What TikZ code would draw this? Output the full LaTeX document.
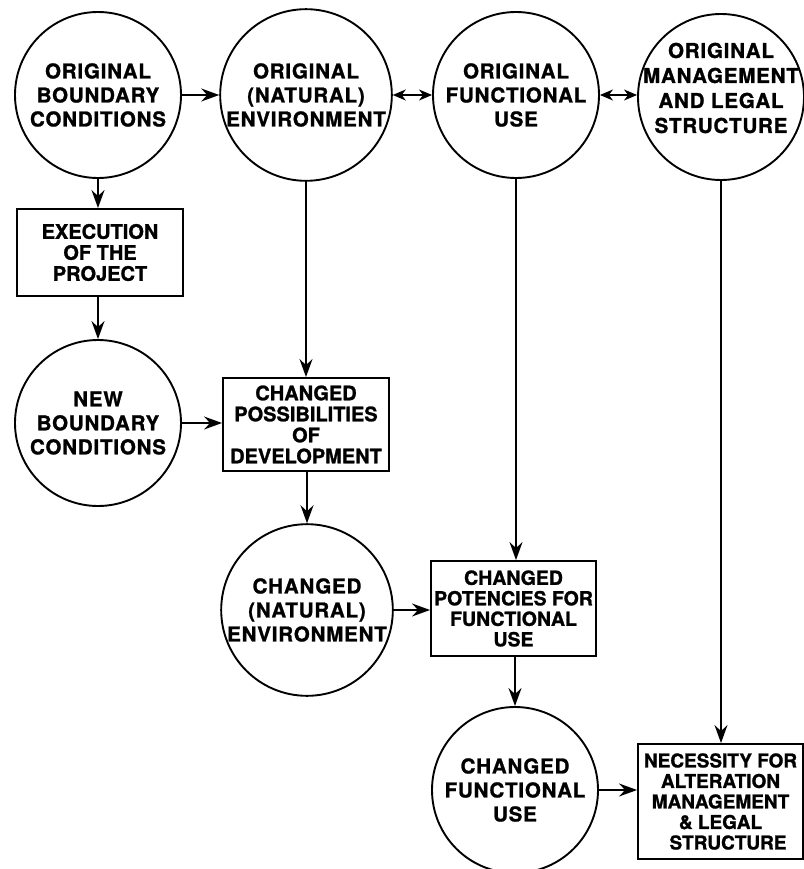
\documentclass[tikz,border=0pt]{standalone}
\usepackage{fontspec}
\setmainfont{TeX Gyre Heros}[BoldFeatures={FakeBold=1.2}]
\newfontfamily\widefont{TeX Gyre Heros}[LetterSpace=4,BoldFeatures={FakeBold=1.2}]
\usetikzlibrary{arrows.meta}
\begin{document}
\begin{tikzpicture}[x=1pt,y=-1pt,
  circ/.style={circle, draw, line width=1.9pt, minimum size=166pt, inner sep=0pt, align=center,
    font=\widefont\bfseries\fontsize{20.5}{24}\selectfont},
  txt/.style={inner sep=0pt, align=center, font=\widefont\bfseries\fontsize{20.5}{25}\selectfont},
  boxn/.style={rectangle, draw, line width=1.9pt, inner sep=0pt, align=center,
    font=\bfseries\fontsize{20}{21}\selectfont},
  arr/.style={line width=1.4pt, -{Stealth[length=18pt,width=13pt,inset=6pt]}},
  darr/.style={line width=1.4pt, {Stealth[length=13pt,width=11pt,inset=4pt]}-{Stealth[length=13pt,width=11pt,inset=4pt]}}]
\useasboundingbox (0,0) rectangle (803,869);
% circles
\node[circ] (obc) at (98,95) {ORIGINAL\\BOUNDARY\\CONDITIONS};
\node[circ] (onat) at (306,95) {ORIGINAL\\(NATURAL)\\ENVIRONMENT};
\node[circ] (ofu) at (516,95) {ORIGINAL\\FUNCTIONAL\\USE};
\node[circ] (omg) at (721,97) {};
\node[txt] (omgt) at (721,88) {ORIGINAL\\MANAGEMENT\\AND LEGAL\\STRUCTURE};
\node[circ] (nbc) at (98,423) {NEW\\BOUNDARY\\CONDITIONS};
\node[circ] (cnat) at (307,610) {CHANGED\\(NATURAL)\\ENVIRONMENT};
\node[circ] (cfu) at (515,790) {CHANGED\\FUNCTIONAL\\USE};
% boxes
\node[boxn, minimum width=166pt, minimum height=87pt] (exec) at (100,252.5) {EXECUTION\\OF THE\\PROJECT};
\node[boxn, minimum width=166pt, minimum height=93pt] (posdev) at (306,424.5) {CHANGED\\POSSIBILITIES\\OF\\DEVELOPMENT};
\node[boxn, minimum width=165pt, minimum height=95pt, font=\bfseries\fontsize{19.5}{20.5}\selectfont] (pot) at (513.5,608.5) {CHANGED\\POTENCIES FOR\\FUNCTIONAL\\USE};
\node[boxn, minimum width=165pt, minimum height=115pt, font=\bfseries\fontsize{19}{20.5}\selectfont] (nec) at (720.5,801.5) {NECESSITY FOR\\ALTERATION\\MANAGEMENT\\\& LEGAL\hspace*{25pt}\\\hspace*{15pt}STRUCTURE};
% connectors
\draw[arr] (obc) -- (onat);
\draw[darr] (onat) -- (ofu);
\draw[darr] (ofu.east) -- (ofu.east -| omg.west);
\draw[arr] (obc.south) -- (obc.south |- exec.north);
\draw[arr] (nbc.north |- exec.south) -- (nbc.north);
\draw[arr] (onat.south) -- (onat.south |- posdev.north);
\draw[arr] (nbc.east) -- (nbc.east -| posdev.west);
\draw[arr] (cnat.north |- posdev.south) -- (cnat.north);
\draw[arr] (cnat.east) -- (cnat.east -| pot.west);
\draw[arr] (ofu.south) -- (ofu.south |- pot.north);
\draw[arr] (cfu.north |- pot.south) -- (cfu.north);
\draw[arr] (cfu.east) -- (cfu.east -| nec.west);
\draw[arr] (omg.south) -- (omg.south |- nec.north);
\end{tikzpicture}
\end{document}
